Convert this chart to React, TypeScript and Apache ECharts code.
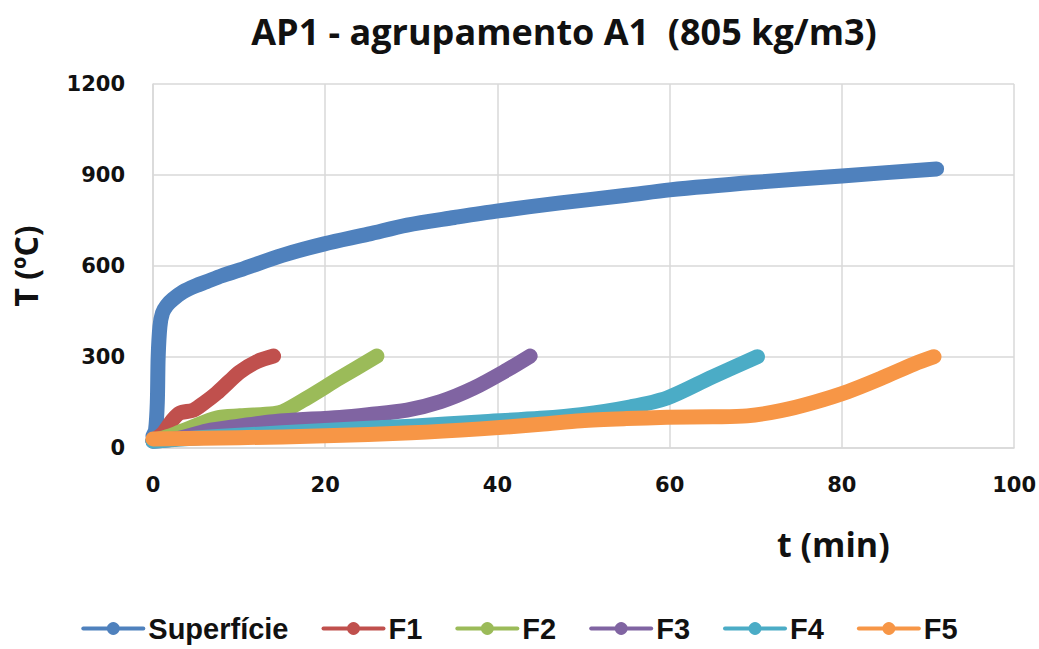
import React, { useEffect, useRef } from "react";
import * as echarts from "echarts";

// Temperature histories (t in min, T in ºC) for the surface and the five depths
const seriesNames = ["Superfície", "F1", "F2", "F3", "F4", "F5"];
const seriesColors = ["#4F81BD", "#C0504D", "#9BBB59", "#8064A2", "#4BACC6", "#F79646"];

const supTime = [0, 0.3, 0.5, 0.6, 0.8, 1.1, 1.6, 2.3, 3.5, 5, 6.2, 8, 10.1, 15, 19.9, 25, 29.5, 35, 39.9, 47.3, 55, 60, 70, 80, 91];
const supTemp = [40, 60, 150, 300, 400, 445, 470, 490, 515, 535, 548, 568, 587, 635, 673, 705, 735, 760, 781, 808, 833, 851, 876, 897, 920];

const f1Time = [0, 1.2, 2.2, 3.1, 4.7, 6, 7.4, 8.8, 10.1, 12.1, 14];
const f1Temp = [25, 50, 90, 115, 125, 150, 181, 218, 251, 285, 303];

const f2Time = [0, 2, 4.3, 7.4, 10.1, 14, 15.1, 17.9, 21.7, 26];
const f2Temp = [25, 40, 66, 99, 106, 113, 120, 165, 231, 303];

const f3Time = [0, 3, 6.2, 10, 14, 21.7, 25, 29.5, 33.4, 37.2, 41.1, 43.8];
const f3Temp = [22, 32, 56, 72, 87, 101, 110, 125, 153, 197, 257, 303];

const f4Time = [0, 5, 10, 20, 30, 38, 45, 49.7, 55.5, 59.7, 65, 70.2];
const f4Temp = [22, 33, 42, 58, 72, 86, 98, 110, 136, 165, 235, 301];

const f5Time = [0, 10, 20, 30, 38, 45, 49.7, 55, 59.7, 65, 69, 72.9, 76.8, 80.7, 84.5, 88.4, 90.7];
const f5Temp = [30, 34, 40, 50, 63, 78, 90, 97, 101, 103, 106, 123, 151, 186, 229, 277, 301];

const xTicks = { min: 0, max: 100, interval: 20 };
const yTicks = { min: 0, max: 1200, interval: 300 };

const times = [supTime, f1Time, f2Time, f3Time, f4Time, f5Time];
const temps = [supTemp, f1Temp, f2Temp, f3Temp, f4Temp, f5Temp];

const zip = (xs: number[], ys: number[]) => xs.map((x, i) => [x, ys[i]]);

export default function App() {
  const ref = useRef<HTMLDivElement>(null);

  useEffect(() => {
    if (!ref.current) return;
    const chart = echarts.init(ref.current, null, { renderer: "svg" });
    const titleFont = "'Open Sans', 'DejaVu Sans', sans-serif";
    const tickFont = "'DejaVu Sans', sans-serif";
    const legendFont = "'Liberation Sans', sans-serif";

    chart.setOption({
      animation: false,
      backgroundColor: "#ffffff",
      title: {
        text: "AP1 - agrupamento A1  (805 kg/m3)",
        left: 559,
        top: 8,
        textAlign: "center",
        textStyle: { fontFamily: titleFont, fontWeight: "bold", fontSize: 36, color: "#111" },
      },
      grid: { left: 153, right: 24, top: 84, bottom: 201, containLabel: false },
      xAxis: {
        type: "value",
        ...xTicks,
        axisLine: { show: true, lineStyle: { color: "#d9d9d9", width: 1.5 } },
        axisTick: { show: false },
        splitLine: { show: true, lineStyle: { color: "#d9d9d9", width: 1.5 } },
        axisLabel: { margin: 26, fontFamily: tickFont, fontWeight: "bold", fontSize: 21, color: "#111" },
      },
      yAxis: {
        type: "value",
        ...yTicks,
        name: "T (ºC)",
        nameLocation: "middle",
        nameGap: 112,
        nameTextStyle: { fontFamily: titleFont, fontWeight: "bold", fontSize: 32, color: "#111" },
        axisLine: { show: true, lineStyle: { color: "#d9d9d9", width: 1.5 } },
        axisTick: { show: false },
        splitLine: { show: true, lineStyle: { color: "#d9d9d9", width: 1.5 } },
        axisLabel: {
          margin: 28,
          formatter: (v: number) => String(v),
          fontFamily: tickFont,
          fontWeight: "bold",
          fontSize: 21,
          color: "#111",
        },
      },
      legend: {
        data: seriesNames,
        left: "center",
        top: 609,
        itemWidth: 60,
        itemHeight: 16,
        itemGap: 33,
        lineStyle: { width: 4 },
        textStyle: { fontFamily: legendFont, fontWeight: "bold", fontSize: 29, color: "#111" },
      },
      graphic: [
        {
          type: "text",
          left: 777,
          top: 527,
          style: { text: "t (min)", fontFamily: titleFont, fontWeight: "bold", fontSize: 34, fill: "#111" },
        },
      ],
      series: seriesNames.map((name, i) => ({
        name,
        type: "line",
        data: zip(times[i], temps[i]),
        smooth: 0.3,
        symbol: "circle",
        symbolSize: 14,
        showSymbol: false,
        color: seriesColors[i],
        lineStyle: { width: 15, color: seriesColors[i], cap: "round", join: "round" },
        itemStyle: { color: seriesColors[i] },
      })),
    });

    return () => chart.dispose();
  }, []);

  return (
    <div
      ref={ref}
      style={{ position: "fixed", left: 0, top: 0, width: 1039, height: 649, background: "#fff" }}
    />
  );
}
